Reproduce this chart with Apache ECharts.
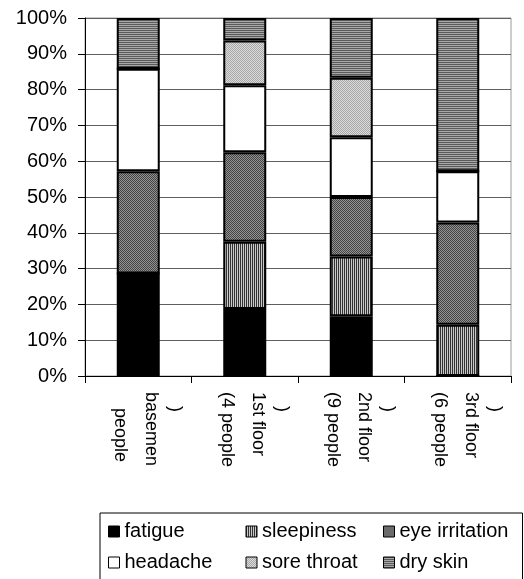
<!DOCTYPE html>
<html>
<head>
<meta charset="utf-8">
<script src="https://cdn.jsdelivr.net/npm/echarts@6/dist/echarts.min.js"></script>
<style>
  html, body { margin: 0; padding: 0; background: #fff; }
  #chart { width: 524px; height: 579px; }
</style>
</head>
<body>
<div id="chart"></div>
<script>
// Share of reported symptoms per floor (percent of each column)
const categories = ['basement', '1st floor', '2nd floor', '3rd floor'];
// Axis label lines, drawn right-to-left under each column
const categoryLines = [
  [')', 'basemen', 'people'],
  [')', '1st floor', '(4 people'],
  [')', '2nd floor', '(9 people'],
  [')', '3rd floor', '(6 people']
];
const symptoms = ['fatigue', 'sleepiness', 'eye irritation', 'headache', 'sore throat', 'dry skin'];
const fatigue      = [28.6, 18.75, 16.7, 0];
const sleepiness   = [0, 18.75, 16.7, 14.3];
const eyeIrritation= [28.6, 25.0, 16.6, 28.6];
const headache     = [28.6, 18.75, 16.7, 14.3];
const soreThroat   = [0, 12.5, 16.6, 0];
const drySkin      = [14.2, 6.25, 16.7, 42.8];
const yTicks = [0, 10, 20, 30, 40, 50, 60, 70, 80, 90, 100];

const seriesValues = [fatigue, sleepiness, eyeIrritation, headache, soreThroat, drySkin];

// Small repeating fills for the monochrome hatches
function pattern(w, h, cells) {
  const c = document.createElement('canvas');
  c.width = w; c.height = h;
  const g = c.getContext('2d');
  for (let y = 0; y < h; y++) {
    for (let x = 0; x < w; x++) {
      g.fillStyle = cells[y][x];
      g.fillRect(x, y, 1, 1);
    }
  }
  return { image: c, repeat: 'repeat' };
}
const fills = [
  '#000000',
  pattern(2, 1, [['#333333', '#c8c8c8']]),
  pattern(2, 2, [['#444444', '#939393'], ['#939393', '#444444']]),
  '#ffffff',
  pattern(2, 2, [['#a8a8a8', '#dadada'], ['#dadada', '#a8a8a8']]),
  pattern(1, 2, [['#5a5a5a'], ['#a8a8a8']])
];

const FONT = "'Liberation Sans', Arial, sans-serif";
const legendCols = ['c0', 'c1', 'c2'];

function richLine(size, lh, pad) {
  return { fontFamily: FONT, fontSize: size, color: '#000', lineHeight: lh, padding: pad };
}

const chart = echarts.init(document.getElementById('chart'), null, { renderer: 'canvas' });
chart.setOption({
  animation: false,
  backgroundColor: '#ffffff',
  grid: {
    left: 85, right: 13, top: 18, bottom: 203,
    show: true, borderColor: '#9a9a9a', borderWidth: 1, backgroundColor: 'transparent'
  },
  xAxis: {
    type: 'category',
    data: categories,
    axisLine: { lineStyle: { color: '#000', width: 1 } },
    axisTick: { show: true, alignWithLabel: false, length: 7, lineStyle: { color: '#000' } },
    axisLabel: {
      interval: 0,
      rotate: -90,
      margin: 16,
      padding: [0, 0, 12, 0],
      color: '#000',
      fontFamily: FONT,
      fontSize: 18,
      formatter: function (value, idx) {
        const l = categoryLines[idx];
        const last = idx === 0 ? 'q0' : 'q';
        return '{p|' + l[0] + '}\n{n|' + l[1] + '}\n{' + last + '|' + l[2] + '}';
      },
      rich: {
        p: richLine(18, 20, [0, 0, 0, 14]),
        n: richLine(18, 28, 0),
        q: richLine(18, 34, 0),
        q0: richLine(18, 34, [0, 0, 0, 16])
      }
    }
  },
  yAxis: {
    type: 'value',
    min: yTicks[0],
    max: yTicks[yTicks.length - 1],
    interval: yTicks[1] - yTicks[0],
    axisLine: { show: true, lineStyle: { color: '#000', width: 1 } },
    axisTick: { show: true, length: 7, lineStyle: { color: '#000' } },
    axisLabel: {
      margin: 18,
      color: '#000',
      fontFamily: FONT,
      fontSize: 20,
      formatter: '{value}%'
    },
    splitLine: { lineStyle: { color: '#5f5f5f', width: 1 } }
  },
  legend: {
    data: symptoms,
    left: 100,
    top: 513,
    width: 415,
    itemGap: 0,
    itemWidth: 11,
    itemHeight: 11,
    icon: 'rect',
    padding: [3, 2, 3, 8],
    borderColor: '#000',
    borderWidth: 1,
    borderRadius: 0,
    itemStyle: { borderColor: '#000', borderWidth: 1 },
    formatter: function (name) {
      const i = symptoms.indexOf(name);
      return '{' + legendCols[i % 3] + '|' + name + '}';
    },
    textStyle: {
      color: '#000',
      fontFamily: FONT,
      fontSize: 20,
      lineHeight: 31,
      rich: {
        c0: { width: 121, fontFamily: FONT, fontSize: 20, color: '#000', lineHeight: 31, padding: [5, 0, 6, 0] },
        c1: { width: 121, fontFamily: FONT, fontSize: 20, color: '#000', lineHeight: 31, padding: [5, 0, 6, 0] },
        c2: { width: 121, fontFamily: FONT, fontSize: 20, color: '#000', lineHeight: 31, padding: [5, 0, 6, 0] }
      }
    }
  },
  series: symptoms.map(function (name, i) {
    return {
      name: name,
      type: 'bar',
      stack: 'share',
      barWidth: 43,
      data: seriesValues[i],
      itemStyle: { color: fills[i], borderColor: '#000', borderWidth: 2 },
      emphasis: { disabled: true }
    };
  })
});
</script>
</body>
</html>
